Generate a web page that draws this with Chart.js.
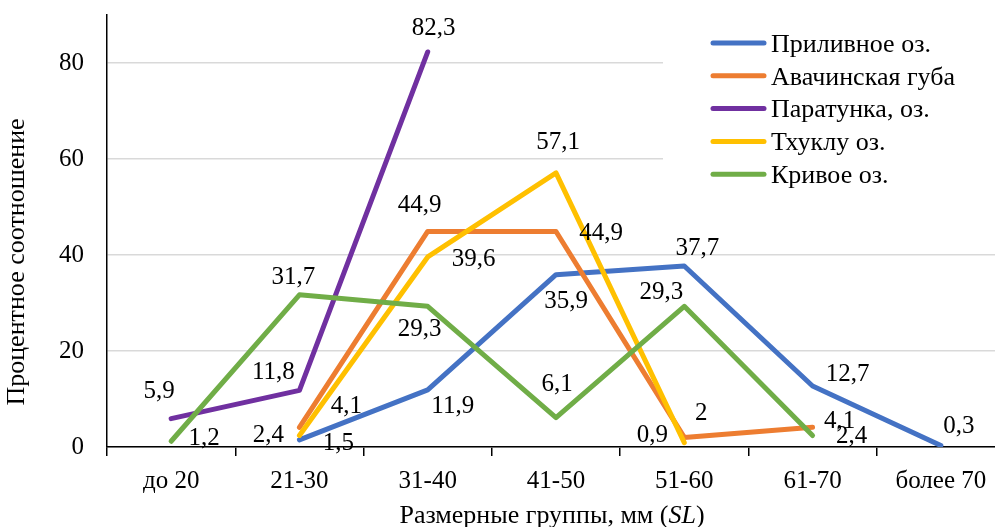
<!DOCTYPE html>
<html>
<head>
<meta charset="utf-8">
<script src="https://cdn.jsdelivr.net/npm/chart.js@4.4.1/dist/chart.umd.min.js"></script>
<style>
  html, body { margin: 0; padding: 0; background: #fff; overflow: hidden; }
  #sizes { display: block; }
</style>
</head>
<body>
<canvas id="sizes" width="1006" height="527"></canvas>
<script>
const categories = ["до 20", "21-30", "31-40", "41-50", "51-60", "61-70", "более 70"];
const seriesNames = ["Приливное оз.", "Авачинская губа", "Паратунка, оз.", "Тхуклу оз.", "Кривое оз."];
const prilivnoe = [null, 1.5, 11.9, 35.9, 37.7, 12.7, 0.3];
const avacha = [null, 4.1, 44.9, 44.9, 2, 4.1, null];
const paratunka = [5.9, 11.8, 82.3, null, null, null, null];
const thuklu = [null, 2.4, 39.6, 57.1, 0.9, null, null];
const krivoe = [1.2, 31.7, 29.3, 6.1, 29.3, 2.4, null];
const yTicks = [0, 20, 40, 60, 80];

const colors = ["#4472C4", "#ED7D31", "#7030A0", "#FFC000", "#70AD47"];

// where each value label sits, relative to its point (pixels)
const labelShift = [
	[null, [39, 4], [25, 17], [10, 27], [13, -18], [35, -12], [18, -19]],
	[null, [47, -21], [-8, -26], [45, 2], [17, -24], [27, -6], null],
	[[-12, -27], [-26, -18], [6, -24], null, null, null, null],
	[null, [-31, 0], [46, 3], [2, -30], [-32, -7], null, null],
	[[33, -3], [-6, -17], [-8, 23], [1, -33], [-23, -14], [39, 1], null]
];

const FONT = "Liberation Serif";
Chart.defaults.font.family = FONT;
Chart.defaults.color = "#000";

const allSeries = [prilivnoe, avacha, paratunka, thuklu, krivoe];

const valueLabels = {
	id: "valueLabels",
	afterDatasetsDraw(chart) {
		const ctx = chart.ctx;
		ctx.save();
		ctx.font = "25px '" + FONT + "'";
		ctx.fillStyle = "#000";
		ctx.textAlign = "center";
		ctx.textBaseline = "middle";
		chart.data.datasets.forEach((ds, di) => {
			const meta = chart.getDatasetMeta(di);
			ds.data.forEach((v, i) => {
				if (v === null) return;
				const p = meta.data[i];
				const s = labelShift[di][i] || [0, -24];
				ctx.fillText(String(v).replace(".", ","), p.x + s[0], p.y + s[1]);
			});
		});
		ctx.restore();
	}
};

const extras = {
	id: "extras",
	afterDraw(chart) {
		const ctx = chart.ctx;
		const area = chart.chartArea;
		ctx.save();
		// legend box
		ctx.fillStyle = "#fff";
		ctx.fillRect(663, 22, area.right - 663, 168);
		ctx.font = "26px '" + FONT + "'";
		ctx.textBaseline = "middle";
		ctx.textAlign = "left";
		seriesNames.forEach((name, i) => {
			const y = 43 + i * 32.8;
			ctx.strokeStyle = colors[i];
			ctx.lineWidth = 5;
			ctx.lineCap = "round";
			ctx.beginPath();
			ctx.moveTo(713, y);
			ctx.lineTo(764, y);
			ctx.stroke();
			ctx.fillStyle = "#000";
			ctx.fillText(name, 771, y + 2);
		});

		// x axis title with italic SL
		const parts = [
			["Размерные группы, мм (", "normal"],
			["SL", "italic"],
			[")", "normal"]
		];
		let total = 0;
		parts.forEach((pt) => {
			ctx.font = pt[1] + " 26px '" + FONT + "'";
			total += ctx.measureText(pt[0]).width;
		});
		let x = 552 - total / 2;
		parts.forEach((pt) => {
			ctx.font = pt[1] + " 26px '" + FONT + "'";
			ctx.fillText(pt[0], x, 516);
			x += ctx.measureText(pt[0]).width;
		});

		// y axis title
		ctx.font = "26px '" + FONT + "'";
		ctx.translate(17, 262);
		ctx.rotate(-Math.PI / 2);
		ctx.textAlign = "center";
		ctx.fillText("Процентное соотношение", 0, 0);
		ctx.restore();
	}
};

new Chart(document.getElementById("sizes"), {
	type: "line",
	plugins: [valueLabels, extras],
	data: {
		labels: categories,
		datasets: allSeries.map((vals, i) => ({
			label: seriesNames[i],
			data: vals,
			borderColor: colors[i],
			backgroundColor: colors[i],
			borderWidth: 5,
			borderCapStyle: "round",
			borderJoinStyle: "round",
			pointRadius: 0,
			tension: 0,
			order: allSeries.length - i
		}))
	},
	options: {
		responsive: false,
		animation: false,
		layout: { padding: { top: 15, right: 1, left: 0, bottom: 0 } },
		plugins: {
			legend: { display: false },
			tooltip: { enabled: false }
		},
		scales: {
			x: {
				offset: true,
				grid: {
					offset: true,
					drawOnChartArea: false,
					drawTicks: true,
					tickLength: 9,
					color: "#000",
					lineWidth: 1.5
				},
				border: { color: "#000", width: 1.5 },
				ticks: {
					font: { size: 25 },
					color: "#000",
					padding: 10,
					maxRotation: 0,
					autoSkip: false
				},
				afterFit(s) {
					s.height = 80;
					s.paddingLeft = 0;
					s.paddingRight = 0;
				}
			},
			y: {
				min: 0,
				max: 90,
				afterBuildTicks(s) {
					s.ticks = yTicks.map((v) => ({ value: v }));
				},
				grid: {
					drawTicks: false,
					color: "#d9d9d9",
					lineWidth: 1.5
				},
				border: { color: "#000", width: 1.5 },
				ticks: {
					font: { size: 25 },
					color: "#000",
					padding: 23
				},
				afterFit(s) {
					s.width = 107;
					s.paddingTop = 0;
					s.paddingBottom = 0;
				}
			}
		}
	}
});
</script>
</body>
</html>
